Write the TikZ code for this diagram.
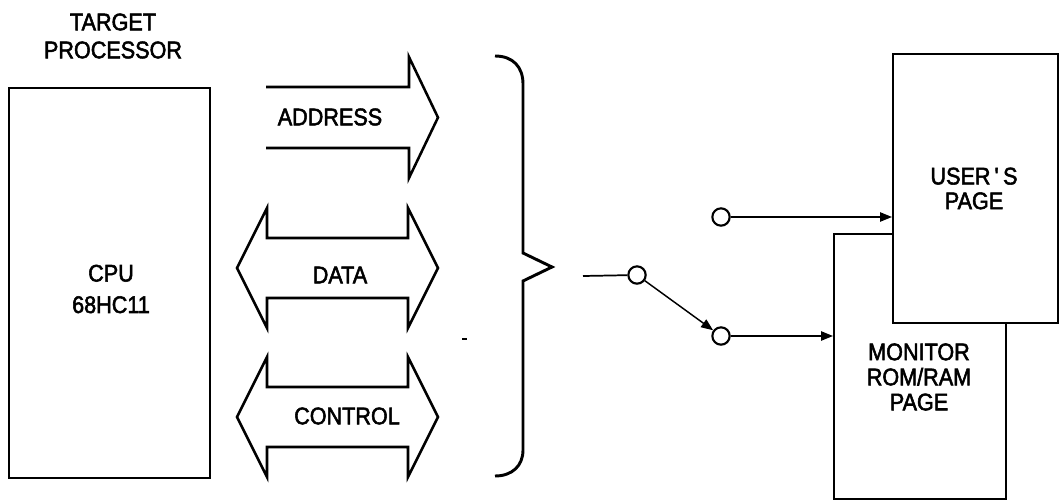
\documentclass[tikz,border=0pt]{standalone}
\usepackage{fontspec}
\setmainfont{Liberation Sans}[FakeStretch=0.9, FakeBold=2.2]
\usetikzlibrary{arrows.meta}
\begin{document}
\begin{tikzpicture}[x=0.75pt,y=-0.75pt,
  lbl/.style={align=center, inner sep=0pt},
  box/.style={draw, line width=1.5pt, fill=white, inner sep=0pt},
  bus/.style={draw, line width=1.9pt, line join=miter},
  brace/.style={draw, line width=2.2pt, line join=miter},
  conn/.style={line width=1.1pt, -{Triangle[length=9pt,width=7pt]}},
  sw/.style={circle, draw, line width=1.6pt, minimum size=13pt, inner sep=0pt, fill=white},
]
\useasboundingbox (0,0) rectangle (1060,503);

% CPU box
\node[box, minimum width=150.75pt, minimum height=292.5pt] (cpu) at (109.5,283) {};
\node[lbl, font=\fontsize{18}{21}\selectfont] (title) at (113,36) {TARGET\\PROCESSOR};
\node[lbl, font=\fontsize{18}{23.6}\selectfont] (cputext) at (111,289) {CPU\\68HC11};

% buses
\path[bus] (266,87) -- (409,87) -- (409,57) -- (438,117.5) -- (409,178) -- (409,148) -- (266,148);
\node[lbl, font=\fontsize{18}{20}\selectfont] (addr) at (330,117) {ADDRESS};

\path[bus] (267,238) -- (408,238) -- (408,208) -- (438,268) -- (408,328) -- (408,298)
  -- (267,298) -- (267,328) -- (237,268) -- (267,208) -- cycle;
\node[lbl, font=\fontsize{18}{20}\selectfont] (data) at (340,275) {DATA};

\path[bus] (267,387) -- (408,387) -- (408,357) -- (438,417) -- (408,477) -- (408,447)
  -- (267,447) -- (267,477) -- (237,417) -- (267,357) -- cycle;
\node[lbl, font=\fontsize{18}{20}\selectfont] (ctrl) at (347,416) {CONTROL};

% small mark
\draw[line width=1pt] (462,339) -- (467,339);

% brace
\path[brace] (495,56) .. controls (513,56) and (523,67) .. (523,84) -- (523,253) -- (552,267)
  -- (523,281) -- (523,450) .. controls (523,466) and (512,476) .. (495,476);

% pages
\node[box, minimum width=129pt, minimum height=198.75pt] (mon) at (920,366.5) {};
\node[box, minimum width=123.75pt, minimum height=201.75pt] (user) at (975.5,188.5) {};
\node[lbl, font=\fontsize{18}{18.5}\selectfont] (usertext) at (974,188.5) {USER\,\textquotesingle\,S\\PAGE};
\node[lbl, font=\fontsize{18}{18.8}\selectfont] (montext) at (919,377) {MONITOR\\ROM/RAM\\PAGE};

% switch
\node[sw] (a) at (637,275) {};
\node[sw] (b) at (721,217) {};
\node[sw] (c) at (721,336) {};
\coordinate (in) at (583,276);
\draw[line width=1.3pt] (in) -- (a);
\draw[conn] (a) -- (c);
\draw[conn] (b) -- (b -| user.west);
\draw[conn] (c) -- (c -| mon.west);
\end{tikzpicture}
\end{document}
